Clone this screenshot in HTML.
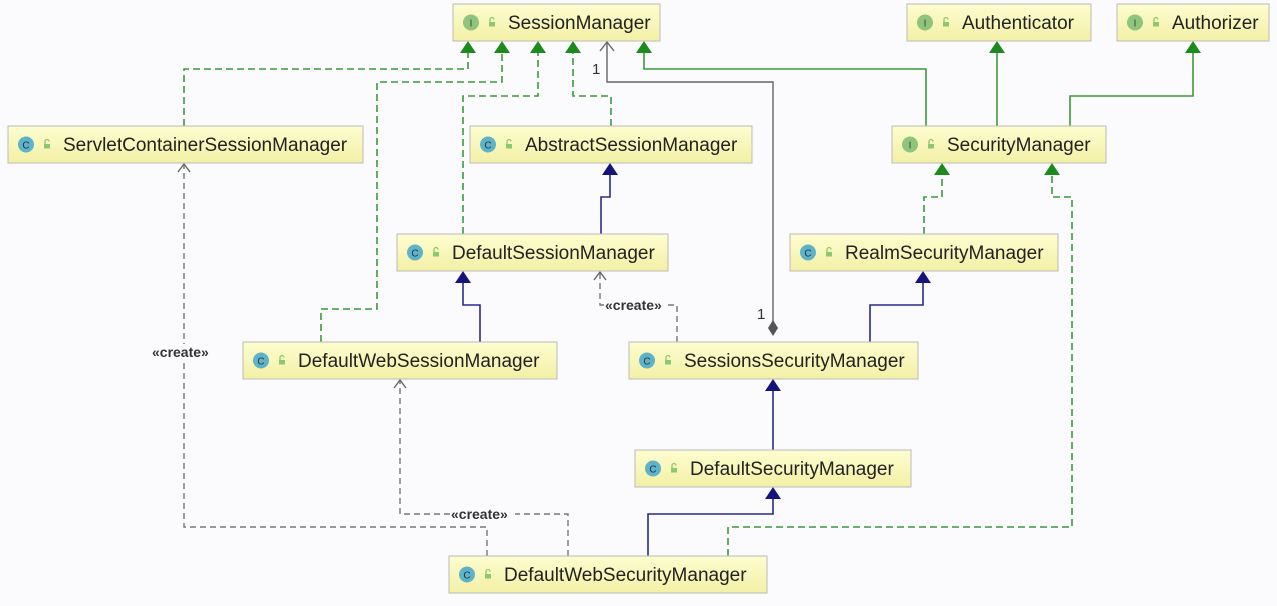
<!DOCTYPE html>
<html><head><meta charset="utf-8"><style>
html,body{margin:0;padding:0;background:#fbfbfd;}
svg{display:block;}
text{font-family:"Liberation Sans",sans-serif;}
</style></head><body>
<svg width="1277" height="606" viewBox="0 0 1277 606" xmlns="http://www.w3.org/2000/svg">
<defs>
<linearGradient id="yg" x1="0" y1="0" x2="0" y2="1"><stop offset="0" stop-color="#fdfdd0"/><stop offset="1" stop-color="#f3f0a6"/></linearGradient>
<g id="lock"><rect x="-3" y="0" width="6" height="4.5" fill="#8cc870"/><path d="M-2 0 v-2.5 a2 2 0 0 1 4 0" fill="none" stroke="#8cc870" stroke-width="1.3"/></g>
</defs>
<rect width="1277" height="606" fill="#fbfbfd"/>
<g fill="none" stroke-width="1.6">
<g stroke="#3b9a3b" stroke-dasharray="7,4">
<path d="M184 126 V69 H468 V52"/>
<path d="M321 342 V309 H377 V82 H502 V52"/>
<path d="M463 234 V96 H538 V52"/>
<path d="M611 126 V96 H573 V52"/>
<path d="M924 234 V197 H942 V174"/>
<path d="M728 556 V527 H1072 V197 H1052 V174"/>
</g>
<g stroke="#3b9a3b">
<path d="M926 126 V69 H644 V52"/>
<path d="M997 126 V52"/>
<path d="M1070 126 V96 H1193 V52"/>
</g>
<g stroke="#2a2a8a">
<path d="M601 234 V197 H610 V174"/>
<path d="M480 342 V305 H463 V282"/>
<path d="M870 342 V305 H923 V282"/>
<path d="M773 450 V390"/>
<path d="M648 556 V514 H773 V498"/>
</g>
<g stroke="#777" stroke-dasharray="6,4" stroke-width="1.4">
<path d="M677 342 V305 H600 V272"/>
<path d="M568 556 V514 H400 V380"/>
<path d="M487 556 V527 H184 V164"/>
</g>
<path d="M773 330 V82 H607 V42" stroke="#666" stroke-width="1.4"/>
<g stroke="#666" stroke-width="1.4">
<path d="M600 51 L607 42 L614 51"/>
<path d="M594 280 L600 272 L606 280"/>
<path d="M394 388 L400 380 L406 388"/>
<path d="M178 172 L184 164 L190 172"/>
</g>
</g>
<g fill="#1d8a1d">
<path d="M468 41 l-8 12 h16z"/><path d="M502 41 l-8 12 h16z"/><path d="M538 41 l-8 12 h16z"/><path d="M573 41 l-8 12 h16z"/><path d="M644 41 l-8 12 h16z"/>
<path d="M997 41 l-8 12 h16z"/><path d="M1193 41 l-8 12 h16z"/>
<path d="M942 163 l-8 12 h16z"/><path d="M1052 163 l-8 12 h16z"/>
</g>
<g fill="#14147a">
<path d="M610 163 l-8 12 h16z"/><path d="M463 271 l-8 12 h16z"/><path d="M923 271 l-8 12 h16z"/><path d="M773 379 l-8 12 h16z"/><path d="M773 487 l-8 12 h16z"/>
</g>
<path d="M773 320 l5 8 l-5 8 l-5 -8z" fill="#555"/>
<g fill="#fbfbfd">
<rect x="604" y="297" width="64" height="15"/><rect x="451" y="506" width="64" height="15"/><rect x="152" y="344" width="64" height="15"/>
</g>
<g font-size="15" fill="#333">
<text x="592" y="74">1</text><text x="757" y="319">1</text>
</g>
<g font-size="14" fill="#333" font-weight="bold">
<text x="605" y="310">«create»</text>
<text x="451" y="519">«create»</text>
<text x="152" y="357">«create»</text>
</g>
<g font-size="19" fill="#222">
<g transform="translate(453,4)"><rect width="207" height="37" fill="url(#yg)" stroke="#bbb"/><circle cx="18" cy="18.5" r="8" fill="#8fc47a"/><text x="18" y="22.5" font-size="10" text-anchor="middle" fill="#345">I</text><use href="#lock" x="39" y="18"/><text x="55" y="25">SessionManager</text></g>
<g transform="translate(907,4)"><rect width="184" height="37" fill="url(#yg)" stroke="#bbb"/><circle cx="18" cy="18.5" r="8" fill="#8fc47a"/><text x="18" y="22.5" font-size="10" text-anchor="middle" fill="#345">I</text><use href="#lock" x="39" y="18"/><text x="55" y="25">Authenticator</text></g>
<g transform="translate(1117,4)"><rect width="152" height="37" fill="url(#yg)" stroke="#bbb"/><circle cx="18" cy="18.5" r="8" fill="#8fc47a"/><text x="18" y="22.5" font-size="10" text-anchor="middle" fill="#345">I</text><use href="#lock" x="39" y="18"/><text x="55" y="25">Authorizer</text></g>
<g transform="translate(892,126)"><rect width="214" height="37" fill="url(#yg)" stroke="#bbb"/><circle cx="18" cy="18.5" r="8" fill="#8fc47a"/><text x="18" y="22.5" font-size="10" text-anchor="middle" fill="#345">I</text><use href="#lock" x="39" y="18"/><text x="55" y="25">SecurityManager</text></g>
<g transform="translate(8,126)"><rect width="355" height="37" fill="url(#yg)" stroke="#bbb"/><circle cx="18" cy="18.5" r="8" fill="#5fb3c8"/><text x="18" y="22.5" font-size="10" text-anchor="middle" fill="#234">C</text><use href="#lock" x="39" y="18"/><text x="55" y="25">ServletContainerSessionManager</text></g>
<g transform="translate(470,126)"><rect width="282" height="37" fill="url(#yg)" stroke="#bbb"/><circle cx="18" cy="18.5" r="8" fill="#5fb3c8"/><text x="18" y="22.5" font-size="10" text-anchor="middle" fill="#234">C</text><use href="#lock" x="39" y="18"/><text x="55" y="25">AbstractSessionManager</text></g>
<g transform="translate(397,234)"><rect width="271" height="37" fill="url(#yg)" stroke="#bbb"/><circle cx="18" cy="18.5" r="8" fill="#5fb3c8"/><text x="18" y="22.5" font-size="10" text-anchor="middle" fill="#234">C</text><use href="#lock" x="39" y="18"/><text x="55" y="25">DefaultSessionManager</text></g>
<g transform="translate(790,234)"><rect width="268" height="37" fill="url(#yg)" stroke="#bbb"/><circle cx="18" cy="18.5" r="8" fill="#5fb3c8"/><text x="18" y="22.5" font-size="10" text-anchor="middle" fill="#234">C</text><use href="#lock" x="39" y="18"/><text x="55" y="25">RealmSecurityManager</text></g>
<g transform="translate(243,342)"><rect width="314" height="37" fill="url(#yg)" stroke="#bbb"/><circle cx="18" cy="18.5" r="8" fill="#5fb3c8"/><text x="18" y="22.5" font-size="10" text-anchor="middle" fill="#234">C</text><use href="#lock" x="39" y="18"/><text x="55" y="25">DefaultWebSessionManager</text></g>
<g transform="translate(629,342)"><rect width="289" height="37" fill="url(#yg)" stroke="#bbb"/><circle cx="18" cy="18.5" r="8" fill="#5fb3c8"/><text x="18" y="22.5" font-size="10" text-anchor="middle" fill="#234">C</text><use href="#lock" x="39" y="18"/><text x="55" y="25">SessionsSecurityManager</text></g>
<g transform="translate(635,450)"><rect width="276" height="37" fill="url(#yg)" stroke="#bbb"/><circle cx="18" cy="18.5" r="8" fill="#5fb3c8"/><text x="18" y="22.5" font-size="10" text-anchor="middle" fill="#234">C</text><use href="#lock" x="39" y="18"/><text x="55" y="25">DefaultSecurityManager</text></g>
<g transform="translate(449,556)"><rect width="318" height="37" fill="url(#yg)" stroke="#bbb"/><circle cx="18" cy="18.5" r="8" fill="#5fb3c8"/><text x="18" y="22.5" font-size="10" text-anchor="middle" fill="#234">C</text><use href="#lock" x="39" y="18"/><text x="55" y="25">DefaultWebSecurityManager</text></g>
</g>
</svg>
</body></html>
